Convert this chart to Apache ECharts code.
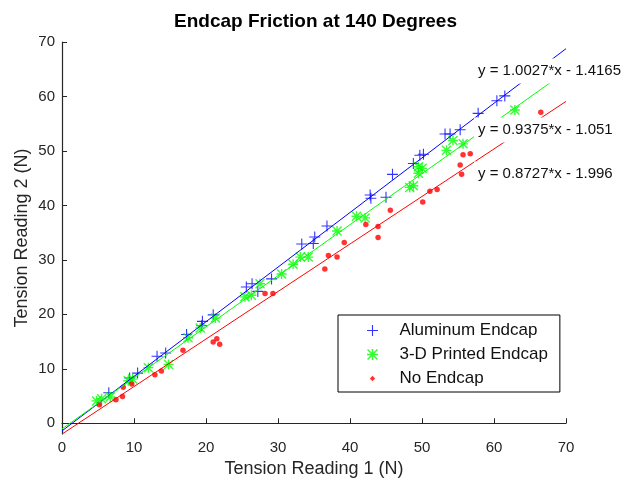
<!DOCTYPE html>
<html>
<head>
<meta charset="utf-8">
<script src="https://cdn.jsdelivr.net/npm/echarts@6/dist/echarts.min.js"></script>
<style>html,body{margin:0;padding:0;background:#fff}#c{width:631px;height:483px}</style>
</head>
<body>
<div id="c"></div>
<script>
const chartTitle = 'Endcap Friction at 140 Degrees';
const xAxisName = 'Tension Reading 1 (N)';
const yAxisName = 'Tension Reading 2 (N)';
const seriesNames = ['Aluminum Endcap', '3-D Printed Endcap', 'No Endcap'];

const aluminumX = [6.5, 9.4, 10.5, 13.2, 14.4, 17.3, 19.4, 19.5, 21.0, 25.6, 26.4, 27.2, 29.1, 33.3, 34.9, 35.1, 36.8, 42.8, 42.9, 45.0, 45.9, 48.8, 49.7, 50.2, 53.2, 53.9, 55.3, 57.8, 60.4, 61.5];
const aluminumY = [5.6, 8.3, 9.2, 12.3, 12.9, 16.3, 17.9, 18.7, 19.9, 25.0, 25.6, 24.2, 26.5, 32.9, 33.0, 34.2, 36.2, 41.9, 41.3, 41.5, 45.7, 47.7, 49.2, 49.4, 53.1, 53.1, 53.9, 56.9, 59.2, 60.1];

const printedX = [4.8, 5.5, 6.7, 9.2, 9.8, 12.0, 14.8, 17.5, 19.2, 21.3, 25.4, 26.3, 27.5, 30.5, 32.1, 33.1, 34.2, 38.2, 40.9, 42.1, 48.3, 48.8, 49.5, 49.5, 50.0, 53.4, 54.3, 55.7, 62.9];
const printedY = [4.1, 4.5, 4.8, 7.8, 8.1, 10.2, 10.8, 15.7, 17.5, 19.3, 23.2, 23.5, 25.6, 27.4, 29.2, 30.5, 30.5, 35.3, 38.0, 37.7, 43.3, 43.6, 45.9, 47.1, 46.8, 50.1, 51.9, 51.3, 57.5];

const noEndcapX = [5.2, 7.5, 8.4, 8.5, 9.7, 12.9, 13.8, 16.8, 21.0, 21.5, 21.9, 28.2, 29.3, 36.5, 37.0, 38.2, 39.2, 42.2, 43.9, 43.9, 45.6, 50.1, 51.1, 52.1, 55.3, 55.5, 55.7, 56.7, 66.5];
const noEndcapY = [3.4, 4.3, 4.9, 6.6, 7.2, 8.9, 9.6, 13.4, 14.9, 15.5, 14.5, 23.8, 23.8, 28.3, 30.8, 30.5, 33.2, 36.5, 36.1, 34.1, 39.1, 40.6, 42.6, 42.9, 47.4, 45.7, 49.3, 49.5, 57.1];

const fitSlopes = [1.0027, 0.9375, 0.8727];
const fitIntercepts = [-1.4165, -1.051, -1.996];
const fitLabels = ['y = 1.0027*x - 1.4165', 'y = 0.9375*x - 1.051', 'y = 0.8727*x - 1.996'];
const fitRange = [0, 70];

const xTickValues = [0, 10, 20, 30, 40, 50, 60, 70];
const yTickValues = [0, 10, 20, 30, 40, 50, 60, 70];
const xRange = [0, 70];
const yRange = [-2, 70];

const colors = ['#0000ff', '#00ff00', '#ff0000'];
const FONT = 'Arial, "Liberation Sans", Helvetica, sans-serif';
const plusPath = 'path://M0,4.5H10V5.5H0Z M4.5,0H5.5V10H4.5Z';
const starPath = 'path://M0,4.3H10V5.7H0Z M4.3,0H5.7V10H4.3Z M1,0L10,9L9,10L0,1Z M9,0L10,1L1,10L0,9Z';
const dotIconPath = 'path://M0,0M10,10M5,2.6L7.4,5L5,7.4L2.6,5Z';

function pairs(xs, ys) { return xs.map((x, i) => [x, ys[i]]); }
function fitLine(k) { return fitRange.map(x => [x, fitSlopes[k] * x + fitIntercepts[k]]); }

const chart = echarts.init(document.getElementById('c'), null, { renderer: 'canvas' });
const axisColor = '#262626';
chart.setOption({
  animation: false,
  backgroundColor: '#fff',
  title: {
    text: chartTitle, left: 'center', top: 7,
    textStyle: { fontFamily: FONT, fontSize: 19, fontWeight: 'bold', color: '#000' }
  },
  grid: { left: 62, right: 65, top: 42, bottom: 44, containLabel: false },
  xAxis: {
    type: 'value', min: xRange[0], max: xRange[1], interval: 10,
    name: xAxisName, nameLocation: 'middle', nameGap: 24,
    nameTextStyle: { fontFamily: FONT, fontSize: 18, color: axisColor },
    axisLine: { lineStyle: { color: axisColor, width: 1.2 } },
    axisTick: { inside: true, length: 5, lineStyle: { color: axisColor } },
    axisLabel: { fontFamily: FONT, fontSize: 15, color: axisColor, margin: 6,
      formatter: v => xTickValues.includes(v) ? String(v) : '' },
    splitLine: { show: false }
  },
  yAxis: {
    type: 'value', min: yRange[0], max: yRange[1],
    name: yAxisName, nameLocation: 'middle', nameGap: 31, nameMoveOverlap: false,
    nameTextStyle: { fontFamily: FONT, fontSize: 18, color: axisColor },
    axisLine: { lineStyle: { color: axisColor, width: 1.2 } },
    axisTick: { inside: true, length: 5, lineStyle: { color: axisColor }, customValues: yTickValues },
    axisLabel: { fontFamily: FONT, fontSize: 15, color: axisColor, margin: 7, customValues: yTickValues },
    splitLine: { show: false }
  },
  legend: {
    orient: 'vertical', left: 338, top: 315,
    data: [
      { name: seriesNames[0], icon: plusPath },
      { name: seriesNames[1], icon: starPath },
      { name: seriesNames[2], icon: dotIconPath }
    ],
    itemWidth: 44, itemHeight: 11, itemGap: 7,
    padding: [7, 12, 5, 29],
    borderColor: '#000', borderWidth: 1, backgroundColor: '#fff',
    textStyle: { fontFamily: FONT, fontSize: 17, color: '#111' }
  },
  series: [
    { name: seriesNames[0], type: 'scatter', data: pairs(aluminumX, aluminumY), symbol: plusPath, symbolSize: 11,
      itemStyle: { color: colors[0] }, z: 3 },
    { name: seriesNames[1], type: 'scatter', data: pairs(printedX, printedY), symbol: starPath, symbolSize: 10,
      itemStyle: { color: colors[1] }, z: 3 },
    { name: seriesNames[2], type: 'scatter', data: pairs(noEndcapX, noEndcapY), symbol: 'circle', symbolSize: 5.5,
      itemStyle: { color: colors[2] }, z: 3 },
    { name: 'fit0', type: 'line', data: fitLine(0), showSymbol: false, lineStyle: { color: colors[0], width: 1 }, z: 4 },
    { name: 'fit1', type: 'line', data: fitLine(1), showSymbol: false, lineStyle: { color: colors[1], width: 1 }, z: 4 },
    { name: 'fit2', type: 'line', data: fitLine(2), showSymbol: false, lineStyle: { color: colors[2], width: 1 }, z: 4 }
  ],
  graphic: fitLabels.map((t, i) => ({
    type: 'text', z: 100,
    x: 474, y: [71, 130, 174][i],
    style: { text: t, fontFamily: FONT, fontSize: 15, fill: '#111', verticalAlign: 'middle',
      backgroundColor: '#fff', padding: [5, 4] }
  }))
});
</script>
</body>
</html>
